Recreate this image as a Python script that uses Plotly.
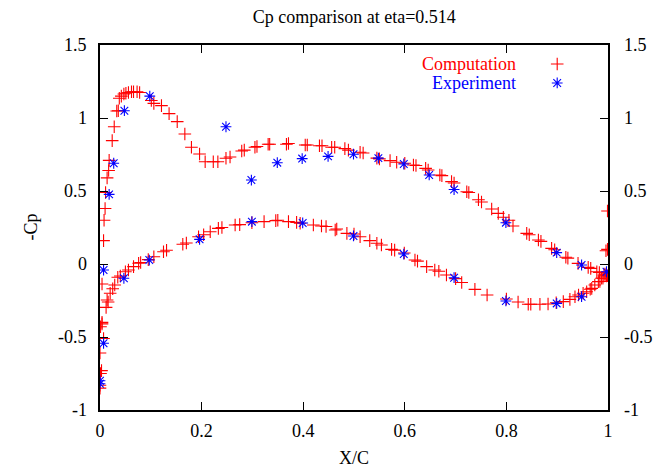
import plotly.graph_objects as go

# Computed pressure distribution (x/c, -Cp), upper surface incl. leading-edge stagnation region
comp_upper = [
    (0.000, -0.85), (0.000, -0.83), (0.001, -0.75), (0.003, -0.73), (0.000, -0.61),
    (0.007, -0.51), (0.001, -0.43), (0.004, -0.41), (0.004, -0.137), (0.007, 0.16),
    (0.008, 0.30), (0.010, 0.38), (0.011, 0.49), (0.014, 0.59), (0.017, 0.64),
    (0.018, 0.71), (0.024, 0.845), (0.028, 0.94), (0.033, 1.048), (0.036, 1.05),
    (0.038, 1.135), (0.042, 1.15), (0.047, 1.164), (0.051, 1.17), (0.056, 1.175),
    (0.062, 1.18), (0.066, 1.18), (0.073, 1.18), (0.078, 1.175), (0.101, 1.12),
    (0.106, 1.10), (0.121, 1.085), (0.136, 1.03), (0.152, 0.975), (0.167, 0.89),
    (0.180, 0.80), (0.196, 0.753), (0.207, 0.70), (0.223, 0.70), (0.232, 0.70),
    (0.248, 0.724), (0.256, 0.733), (0.279, 0.774), (0.284, 0.78), (0.305, 0.80),
    (0.309, 0.805), (0.331, 0.82), (0.334, 0.82), (0.367, 0.82), (0.371, 0.825),
    (0.404, 0.815), (0.408, 0.815), (0.432, 0.81), (0.437, 0.81), (0.456, 0.80),
    (0.462, 0.80), (0.482, 0.79), (0.489, 0.78), (0.512, 0.765), (0.518, 0.76),
    (0.545, 0.725), (0.550, 0.72), (0.571, 0.708), (0.584, 0.697), (0.600, 0.69),
    (0.617, 0.678), (0.622, 0.675), (0.641, 0.655), (0.646, 0.644), (0.669, 0.61),
    (0.673, 0.605), (0.692, 0.564), (0.697, 0.555), (0.722, 0.495), (0.726, 0.49),
    (0.745, 0.44), (0.751, 0.425), (0.771, 0.377), (0.784, 0.347), (0.794, 0.32),
    (0.805, 0.30), (0.813, 0.26), (0.840, 0.21), (0.845, 0.20), (0.863, 0.164),
    (0.868, 0.155), (0.889, 0.107), (0.895, 0.098), (0.917, 0.046), (0.921, 0.04),
    (0.941, 0.004), (0.961, -0.023), (0.966, -0.03), (0.978, -0.053), (0.983, -0.058),
    (0.994, -0.068), (0.997, -0.082),
]

# Trailing-edge cells
comp_te = [(0.999, 0.363), (0.996, 0.091), (0.999, 0.10), (0.999, -0.08)]

# Lower surface
comp_lower = [
    (0.004, -0.40), (0.012, -0.297), (0.014, -0.247), (0.016, -0.26), (0.020, -0.20),
    (0.025, -0.17), (0.029, -0.144), (0.035, -0.091), (0.040, -0.082), (0.050, -0.053),
    (0.056, -0.041), (0.066, -0.018), (0.076, 0.005), (0.080, 0.01), (0.095, 0.03),
    (0.106, 0.05), (0.125, 0.084), (0.131, 0.094), (0.163, 0.135), (0.170, 0.144),
    (0.194, 0.187), (0.204, 0.20), (0.217, 0.221), (0.233, 0.244), (0.240, 0.25),
    (0.266, 0.267), (0.275, 0.27), (0.299, 0.283), (0.323, 0.29), (0.346, 0.297),
    (0.350, 0.30), (0.371, 0.29), (0.387, 0.285), (0.394, 0.279), (0.420, 0.267),
    (0.436, 0.26), (0.445, 0.257), (0.463, 0.233), (0.466, 0.24), (0.486, 0.21),
    (0.500, 0.205), (0.512, 0.187), (0.531, 0.16), (0.545, 0.142), (0.554, 0.13),
    (0.574, 0.10), (0.580, 0.095), (0.599, 0.075), (0.620, 0.027), (0.625, 0.02),
    (0.643, -0.018), (0.659, -0.041), (0.667, -0.05), (0.682, -0.075), (0.700, -0.10),
    (0.712, -0.127), (0.738, -0.174), (0.762, -0.212), (0.800, -0.24), (0.823, -0.26),
    (0.843, -0.276), (0.848, -0.276), (0.866, -0.276), (0.882, -0.274), (0.898, -0.265),
    (0.912, -0.258), (0.925, -0.242), (0.935, -0.224), (0.942, -0.212), (0.951, -0.20),
    (0.958, -0.19), (0.965, -0.173), (0.968, -0.167), (0.974, -0.144), (0.981, -0.121),
    (0.984, -0.12), (0.987, -0.098), (0.990, -0.098), (0.992, -0.075), (0.996, -0.075),
]

# Wind-tunnel pressure taps
exp_upper = [
    (0.000, -0.80), (0.018, 0.477), (0.027, 0.69), (0.048, 1.05), (0.098, 1.15),
    (0.248, 0.94), (0.298, 0.575), (0.349, 0.694), (0.398, 0.722), (0.449, 0.737),
    (0.499, 0.752), (0.548, 0.725), (0.598, 0.685), (0.648, 0.61), (0.697, 0.51),
    (0.799, 0.283), (0.899, 0.078), (0.948, -0.007), (0.997, -0.053),
]
exp_lower = [
    (0.000, -0.82), (0.007, -0.543), (0.007, -0.041), (0.047, -0.098), (0.097, 0.027),
    (0.196, 0.169), (0.299, 0.29), (0.399, 0.281), (0.499, 0.192), (0.598, 0.068),
    (0.697, -0.094), (0.799, -0.253), (0.899, -0.27), (0.948, -0.224),
]

x_range = [0, 1]
y_range = [-1, 1.5]
y_ticks = [-1, -0.5, 0, 0.5, 1, 1.5]
y_tick_text = ["-1", "-0.5", "0", "0.5", "1", "1.5"]
x_ticks = [0, 0.2, 0.4, 0.6, 0.8, 1]
x_tick_text = ["0", "0.2", "0.4", "0.6", "0.8", "1"]

FONT = "Liberation Serif, Times New Roman, serif"
RED = "#ff0000"
BLUE = "#0000ff"

# Key layout, as fractions of the plot area
KEY_SAMPLE_X = 0.90
KEY_TEXT_X = 0.823
KEY_ROWS = [0.948, 0.896]


def frac_to_data(fx, fy):
    return (x_range[0] + fx * (x_range[1] - x_range[0]),
            y_range[0] + fy * (y_range[1] - y_range[0]))


comp = comp_upper + comp_te + comp_lower
exp = exp_upper + exp_lower

plus_marker = dict(symbol="cross-thin-open", size=9, color=RED, line=dict(color=RED, width=1.1))
star_marker = dict(symbol="asterisk-open", size=9, color=BLUE, line=dict(color=BLUE, width=1.1))

fig = go.Figure()
fig.add_trace(go.Scatter(
    x=[p[0] for p in comp], y=[p[1] for p in comp], mode="markers",
    marker=plus_marker, showlegend=False, hoverinfo="skip",
))
fig.add_trace(go.Scatter(
    x=[p[0] for p in exp], y=[p[1] for p in exp], mode="markers",
    marker=star_marker, showlegend=False, hoverinfo="skip",
))

# Key samples
for row, mk in zip(KEY_ROWS, [plus_marker, star_marker]):
    kx, ky = frac_to_data(KEY_SAMPLE_X, row)
    fig.add_trace(go.Scatter(x=[kx], y=[ky], mode="markers", marker=mk,
                             showlegend=False, hoverinfo="skip"))

axis_common = dict(
    showgrid=False, zeroline=False, showline=True, linecolor="black", linewidth=1.5,
    ticks="inside", ticklen=8, tickwidth=1.2, tickcolor="black",
    tickfont=dict(family=FONT, size=18, color="black"),
)

label_font = dict(family=FONT, size=18, color="black")

y_labels = []
for v, t in zip(y_ticks, y_tick_text):
    # tick labels on both vertical sides of the frame
    y_labels.append(dict(text=t, xref="paper", yref="y", x=0, y=v, xanchor="right",
                         yanchor="middle", xshift=-11, showarrow=False, font=label_font))
    y_labels.append(dict(text=t, xref="paper", yref="y", x=1, y=v, xanchor="left",
                         yanchor="middle", xshift=14, showarrow=False, font=label_font))

fig.update_layout(
    width=668, height=472,
    margin=dict(l=100, r=60, t=45, b=62),
    paper_bgcolor="white", plot_bgcolor="white",
    font=label_font,
    title=dict(text="Cp comparison at eta=0.514", x=0.5303, xanchor="center",
               y=1 - 17 / 472, yanchor="middle", yref="container", font=label_font),
    xaxis=dict(range=x_range, tickvals=x_ticks, ticktext=x_tick_text,
               mirror="ticks", ticklabelstandoff=4, **axis_common),
    yaxis=dict(range=y_range, tickvals=y_ticks, showticklabels=False,
               mirror="ticks", **axis_common),
    hovermode=False,
    showlegend=False,
    annotations=[
        dict(text="X/C", xref="paper", yref="paper", x=0.5, y=-48 / 365,
             xanchor="center", yanchor="middle", showarrow=False, font=label_font),
        dict(text="-Cp", xref="paper", yref="paper", x=-70 / 508, y=0.5,
             xanchor="center", yanchor="middle", textangle=-90, showarrow=False,
             font=label_font),
        dict(text="Computation", xref="paper", yref="paper", x=KEY_TEXT_X, y=KEY_ROWS[0],
             xanchor="right", yanchor="middle", showarrow=False,
             font=dict(family=FONT, size=18, color=RED)),
        dict(text="Experiment", xref="paper", yref="paper", x=KEY_TEXT_X, y=KEY_ROWS[1],
             xanchor="right", yanchor="middle", showarrow=False,
             font=dict(family=FONT, size=18, color=BLUE)),
    ] + y_labels,
)

fig.write_html("out.html")
